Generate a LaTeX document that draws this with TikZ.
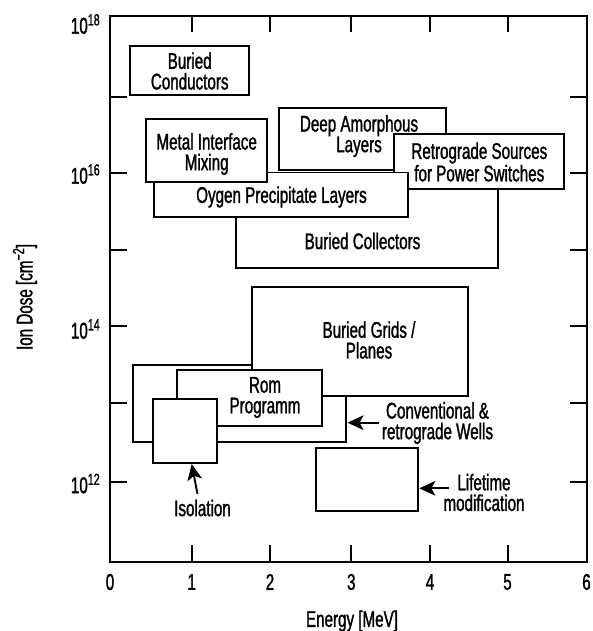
\documentclass[tikz,border=0pt]{standalone}
\usepackage{fontspec}
\setmainfont{Liberation Sans}[FakeStretch=0.67,RawFeature={embolden=1.3}]
\usetikzlibrary{arrows.meta}
\newcommand{\pw}[1]{\raisebox{6.2pt}{\fontsize{12}{12}\selectfont #1}}
\begin{document}
\begin{tikzpicture}[x=0.75pt,y=-0.75pt,
  font=\fontsize{17}{15.5}\selectfont,
  box/.style={draw,line width=1.4pt,fill=white},
  frame/.style={draw,line width=1.6pt},
  tick/.style={line width=1.5pt},
  lbl/.style={align=center,inner sep=0pt},
  arr/.style={-{Stealth[length=12pt,width=11pt,inset=3pt]},line width=1.4pt}]
\useasboundingbox (0,0) rectangle (592,631);
% frame
\draw[frame] (110,15.7) rectangle (586.7,562.3);
% x ticks
\foreach \x/\t in {191.7/1,270/2,351.3/3,430/4,507.5/5}{
  \draw[tick] (\x,562.3) -- (\x,545.3);
  \draw[tick] (\x,15.7) -- (\x,32.5);
  \node[lbl] (xt\t) at (\x,582) {\t};
}
\node[lbl] (xt0) at (110,582) {0};
\node[lbl] (xt6) at (586.5,582) {6};
% y ticks
\foreach \y in {96.7,172.7,249.7,326,403.3,482.3}{
  \draw[tick] (110,\y) -- (127,\y);
  \draw[tick] (586.7,\y) -- (569.5,\y);
}
\node[lbl,anchor=east] (y18) at (100,24) {10\pw{18}};
\node[lbl,anchor=east] (y16) at (100,174) {10\pw{16}};
\node[lbl,anchor=east] (y14) at (100,329) {10\pw{14}};
\node[lbl,anchor=east] (y12) at (100,483.5) {10\pw{12}};
% axis titles
\node[lbl] (xlab) at (352,621) {Energy [MeV]};
\node[lbl,rotate=90] (ylab) at (25,297) {Ion Dose [cm\pw{−2}]};
% upper group
\draw[box] (130,46.3) rectangle (249.3,94.7);
\node[lbl] (bcond) at (189.7,71) {Buried\\Conductors};
\draw[box] (236.3,185) rectangle (497.7,268.3);
\node[lbl] (bcoll) at (362.5,241) {Buried Collectors};
\draw[box] (279.3,108) rectangle (446,170);
\node[lbl] (deep) at (359,136) {Deep Amorphous\\Layers};
\draw[box] (394.3,134.3) rectangle (564.3,189);
\node[lbl] (retro) at (479.3,162) {Retrograde Sources\\for Power Switches};
\draw[box] (154,172.5) rectangle (408.3,216.7);
\node[lbl] (oyg) at (281.5,197) {Oygen Precipitate Layers};
\draw[box] (146,118.7) rectangle (267.3,182);
\node[lbl] (metal) at (206.7,154) {Metal Interface\\Mixing};
% lower group
\draw[box] (132.7,364.7) rectangle (346,442.3);
\draw[box] (252.3,286.7) rectangle (467.7,395.7);
\node[lbl] (grids) at (369,340) {Buried Grids /\\Planes};
\draw[box] (177.3,370.3) rectangle (322.3,425.7);
\node[lbl] (rom) at (265,397.5) {Rom\\Programm};
\draw[box] (152.7,399.3) rectangle (217.3,463);
\draw[box] (316,447.7) rectangle (418.3,510.7);
% annotations
\node[lbl] (iso) at (202.5,508) {Isolation};
\node[lbl] (conv) at (437.5,423) {Conventional \&\\retrograde Wells};
\node[lbl] (life) at (484,492.5) {Lifetime\\modification};
\coordinate (isotip) at (191.7,464);
\coordinate (isotail) at (197.5,494);
\coordinate (convtip) at (347.5,422.7);
\coordinate (convtail) at (378.5,422.7);
\coordinate (lifetip) at (419.3,488.3);
\coordinate (lifetail) at (448.5,488.3);
\draw[arr] (isotail) -- (isotip);
\draw[arr] (convtail) -- (convtip);
\draw[arr] (lifetail) -- (lifetip);
\end{tikzpicture}
\end{document}
